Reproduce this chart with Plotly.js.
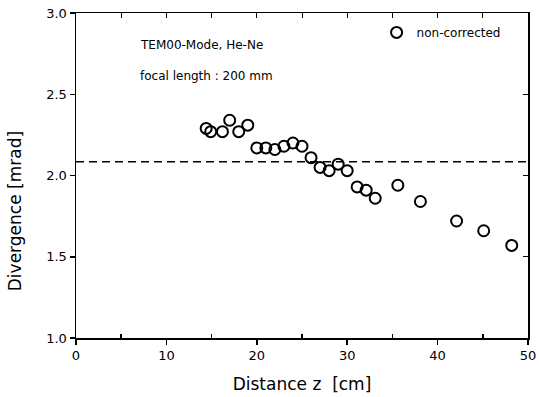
<!DOCTYPE html>
<html><head><meta charset="utf-8">
<script src="https://cdn.plot.ly/plotly-3.0.1.min.js"></script>
<style>html,body{margin:0;padding:0;background:#fff}#c{width:539px;height:397px}</style>
</head><body><div id="c"></div>
<script>
const distance = [14.4, 14.9, 16.2, 17.0, 18.0, 19.0, 20.0, 21.0, 22.0, 23.0, 24.0, 25.0, 26.0, 27.0, 28.0, 29.0, 30.0, 31.1, 32.1, 33.1, 35.6, 38.1, 42.1, 45.1, 48.2];
const divergence = [2.29, 2.27, 2.27, 2.34, 2.27, 2.31, 2.17, 2.17, 2.16, 2.18, 2.20, 2.18, 2.11, 2.05, 2.03, 2.07, 2.03, 1.93, 1.91, 1.86, 1.94, 1.84, 1.72, 1.66, 1.57];
const refLineX = [0, 50];
const refLineY = [2.085, 2.085];
const xTicks = [0, 10, 20, 30, 40, 50];
const yTicks = [1.0, 1.5, 2.0, 2.5, 3.0];
const yTickText = ['1.0', '1.5', '2.0', '2.5', '3.0'];

const F = 'DejaVu Sans, sans-serif';
const traces = [
  {x: refLineX, y: refLineY, mode: 'lines', line: {color: '#000', width: 1.5, dash: '8px,5px'}, showlegend: false, hoverinfo: 'skip'},
  {x: distance, y: divergence, mode: 'markers', name: 'non-corrected',
   marker: {symbol: 'circle-open', size: 11, color: '#000', line: {width: 2, color: '#000'}}},
  {x: refLineX, y: refLineY, xaxis: 'x2', yaxis: 'y2', mode: 'lines', line: {width: 0}, showlegend: false, hoverinfo: 'skip'}
];
const layout = {
  width: 539, height: 397,
  margin: {l: 76, r: 11, t: 13, b: 59},
  paper_bgcolor: '#fff', plot_bgcolor: '#fff',
  font: {family: F, color: '#000', size: 13},
  showlegend: true,
  legend: {x: 0.665, y: 0.985, xanchor: 'left', yanchor: 'top', bgcolor: 'rgba(0,0,0,0)', font: {size: 12, family: F}},
  xaxis: {range: [0, 50], tickvals: xTicks, ticks: 'outside', ticklen: 5, tickwidth: 1.5, tickcolor: '#000',
    showline: true, linecolor: '#000', linewidth: 1.5, showgrid: false, zeroline: false,
    minor: {tickvals: [5, 15, 25, 35, 45], ticks: 'inside', ticklen: 4, tickcolor: '#000'},
    tickfont: {size: 13}, title: {text: 'Distance z  [cm]', font: {size: 17}, standoff: 16}},
  yaxis: {range: [1.0, 3.0], tickvals: yTicks, ticktext: yTickText, ticks: 'outside', ticklen: 5, tickwidth: 1.5, tickcolor: '#000',
    showline: true, linecolor: '#000', linewidth: 1.5, showgrid: false, zeroline: false,
    tickfont: {size: 13}},
  xaxis2: {overlaying: 'x', side: 'top', range: [0, 50], tickvals: [5, 10, 15, 20, 25, 30, 35, 40, 45], ticks: 'inside', ticklen: 5,
    tickcolor: '#000', showticklabels: false, showline: true, linecolor: '#000', linewidth: 1.5, showgrid: false, zeroline: false},
  yaxis2: {overlaying: 'y', side: 'right', range: [1.0, 3.0], tickvals: [1.5, 2.0, 2.5], ticks: 'inside', ticklen: 5,
    tickcolor: '#000', showticklabels: false, showline: true, linecolor: '#000', linewidth: 1.5, showgrid: false, zeroline: false},
  annotations: [
    {xref: 'paper', yref: 'paper', x: 0.137, y: 0.9, xanchor: 'left', yanchor: 'middle', showarrow: false, text: 'TEM00-Mode, He-Ne', font: {size: 12}},
    {xref: 'paper', yref: 'paper', x: 0.137, y: 0.805, xanchor: 'left', yanchor: 'middle', showarrow: false, text: 'focal length : 200 mm', font: {size: 12}},
    {xref: 'paper', yref: 'paper', x: -0.135, y: 0.39, xanchor: 'center', yanchor: 'middle', showarrow: false, textangle: -90, text: 'Divergence [mrad]', font: {size: 17}}
  ]
};
Plotly.newPlot('c', traces, layout, {displayModeBar: false, staticPlot: true});
</script></body></html>
